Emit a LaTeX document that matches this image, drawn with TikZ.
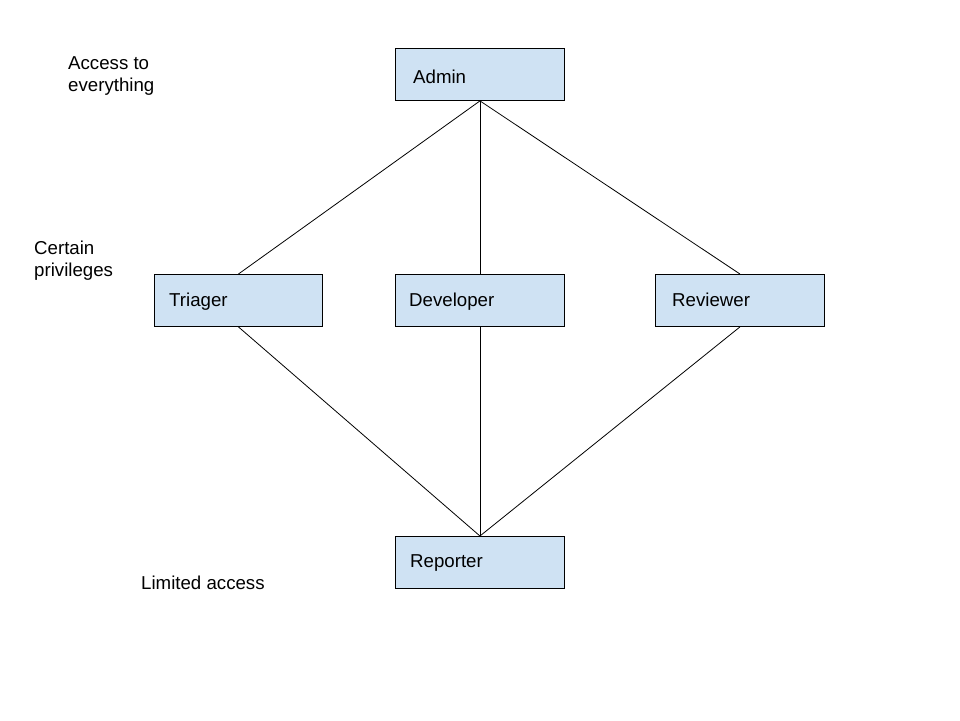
\documentclass[tikz,border=0pt]{standalone}
\usepackage{fontspec}
\setmainfont{Liberation Sans}
\definecolor{boxfill}{HTML}{CFE2F3}
\begin{document}
\begin{tikzpicture}[x=1pt,y=-1pt,
  role/.style={draw=black, fill=boxfill, line width=0.9pt, minimum width=169pt, minimum height=52pt, inner sep=0pt, anchor=north west},
  txt/.style={anchor=base west, inner sep=0pt, font=\fontsize{18.67}{22}\selectfont},
  link/.style={draw=black, line width=0.8pt}]
\useasboundingbox (0,0) rectangle (960,720);
\fill[white] (0,0) rectangle (960,720);
\node[role] (admin) at (395,48) {};
\node[role, minimum width=168pt] (triager) at (154,274) {};
\node[role] (developer) at (395,274) {};
\node[role] (reviewer) at (655,274) {};
\node[role] (reporter) at (395,536) {};
\draw[link] (admin.south) -- (triager.north);
\draw[link] (admin.south) -- (developer.north);
\draw[link] (admin.south) -- (reviewer.north);
\draw[link] (triager.south) -- (reporter.north);
\draw[link] (developer.south) -- (reporter.north);
\draw[link] (reviewer.south) -- (reporter.north);
\node[txt] (tadmin) at (413,83) {Admin};
\node[txt] (ttriager) at (169,306) {Triager};
\node[txt] (tdeveloper) at (409,306) {Developer};
\node[txt] (treviewer) at (672,306) {Reviewer};
\node[txt] (treporter) at (410,567) {Reporter};
\node[txt] (l1a) at (68,69) {Access to};
\node[txt] (l1b) at (68,91) {everything};
\node[txt] (l2a) at (34,254) {Certain};
\node[txt] (l2b) at (34,276) {privileges};
\node[txt] (l3) at (141,589) {Limited access};
\end{tikzpicture}
\end{document}
